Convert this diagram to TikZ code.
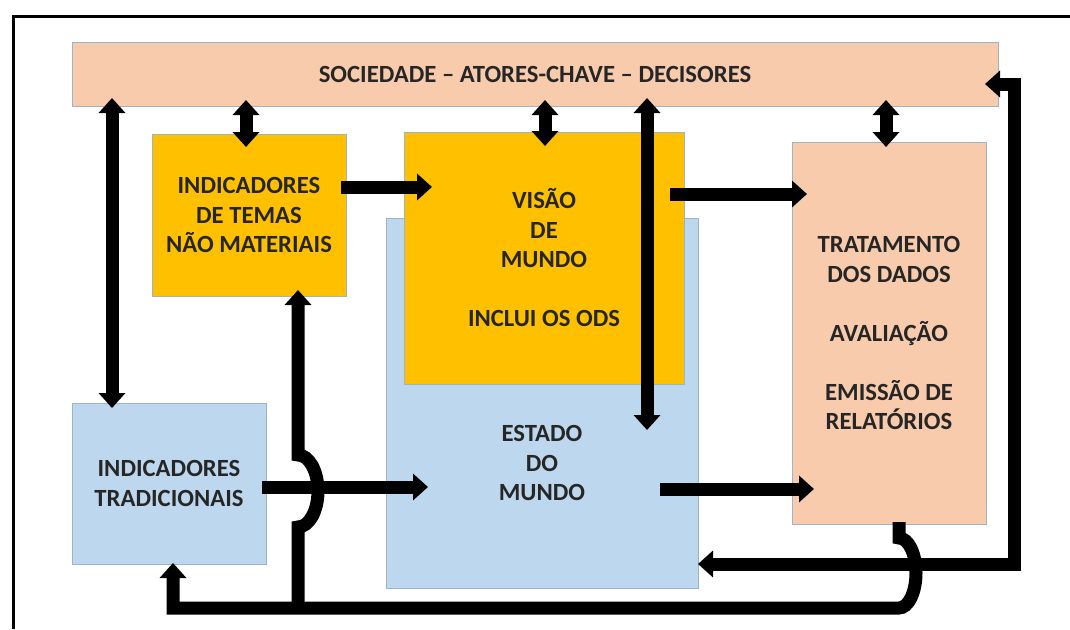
\documentclass[tikz,border=0pt]{standalone}
\usepackage{fontspec}
\setmainfont{Carlito}
\usetikzlibrary{arrows.meta,calc}
\definecolor{peach}{HTML}{F8CBAD}
\definecolor{gold}{HTML}{FFC000}
\definecolor{skyb}{HTML}{BDD7EE}
\definecolor{edge}{HTML}{9FB3C8}
\definecolor{txt}{HTML}{262626}
\begin{document}
\begin{tikzpicture}[x=1pt,y=-1pt,
  lbl/.style={align=center,font=\fontsize{24.7}{29.5}\selectfont\bfseries,text=txt},
  box/.style={lbl,draw=edge,line width=0.8pt,inner sep=0pt,outer sep=0pt},
  tip/.tip={Triangle[width=26pt,length=15pt]},
  arr/.style={line width=13pt,line join=miter,-tip},
  darr/.style={line width=13pt,line join=miter,tip-tip}]
\useasboundingbox (0,0) rectangle (1070,629);
\draw[line width=3pt] (13.5,629) -- (13.5,16.5) -- (1070,16.5);

\node[box,fill=peach,minimum width=926pt,minimum height=64pt] (soc) at (535,74) {SOCIEDADE – ATORES-CHAVE – DECISORES};
\node[box,fill=skyb,minimum width=312pt,minimum height=370pt] (estado) at (542,403) {};
\node[box,fill=gold,minimum width=280pt,minimum height=252pt] (visao) at (544,258) {VISÃO\\DE\\MUNDO\\[29.5pt]INCLUI OS ODS};
\node[box,fill=gold,minimum width=194pt,minimum height=162pt] (temas) at (249,215) {INDICADORES\\DE TEMAS\\NÃO MATERIAIS};
\node[box,fill=peach,minimum width=194pt,minimum height=382pt] (trat) at (889,333) {TRATAMENTO\\DOS DADOS\\[29.5pt]AVALIAÇÃO\\[29.5pt]EMISSÃO DE\\RELATÓRIOS};
\node[box,fill=skyb,minimum width=194pt,minimum height=161pt] (trad) at (169,483.5) {INDICADORES\\TRADICIONAIS};
\node[lbl] (estadotxt) at (542,463) {ESTADO\\DO\\MUNDO};

% double arrows to the society box
\draw[darr] ($(soc.south)+(-423,-8)$) -- ($(trad.north)+(-57,5)$);
\draw[darr] ($(soc.south)+(-289,-6)$) -- ($(temas.north)+(-3,13)$);
\draw[darr] ($(soc.south)+(10,-6)$) -- ($(visao.north)+(1,14)$);
\draw[darr] ($(soc.south)+(351,-6)$) -- ($(trat.north)+(-3,5)$);
\draw[darr] ($(soc.south)+(112,-8)$) -- ($(estado.north)+(105,212)$);

% horizontal arrows
\draw[arr] ($(temas.east)+(-5,-28)$) -- ($(visao.west)+(28,-71)$);
\draw[arr] ($(visao.east)+(-14,-64)$) -- ($(trat.west)+(15,-139)$);
\draw[arr] ($(trad.east)+(-4,3.5)$) -- ($(estado.west)+(42,84)$);
\draw[arr] ($(estado.east)+(-38,86)$) -- ($(trat.west)+(22,156)$);

% right loop
\draw[darr] ($(estado.east)+(0,161)$) -- ($(soc.east)+(16,490)$) -- ($(soc.east)+(16,10)$) -- ($(soc.east)+(-13,10)$);

% bottom loop with bridge
\draw[arr] ($(trat.south)+(10,-2)$) -- ($(trat.south)+(10,14)$)
  arc[start angle=90,end angle=-90,x radius=17pt,y radius=35pt]
  -- ($(trad.south)+(4,44)$) -- ($(trad.south)+(4,-1)$);

% vertical with bridge into the non-material indicators
\draw[arr] ($(temas.south)+(49,312)$) -- ($(temas.south)+(49,231)$)
  arc[start angle=-90,end angle=90,x radius=20pt,y radius=36pt]
  -- ($(temas.south)+(49,-6)$);
\end{tikzpicture}
\end{document}
